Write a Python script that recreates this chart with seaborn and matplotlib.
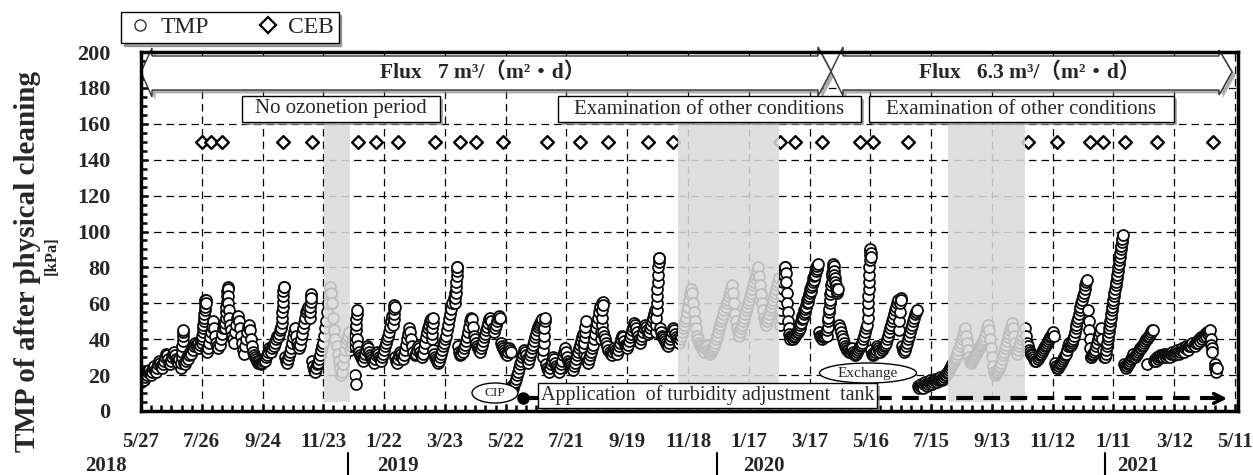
import numpy as np
import pandas as pd
import matplotlib
matplotlib.use("Agg")
import matplotlib.pyplot as plt
import matplotlib.patheffects as pe
from matplotlib.patches import Polygon, Rectangle, Ellipse
from matplotlib.lines import Line2D
import seaborn as sns

# x axis: days counted from 2018-05-27
tick_days = [0, 60, 120, 180, 240, 300, 360, 420, 480, 540, 600, 660, 720, 780, 840, 900, 960, 1020, 1080]
tick_labels = ["5/27", "7/26", "9/24", "11/23", "1/22", "3/23", "5/22", "7/21", "9/19", "11/18",
               "1/17", "3/17", "5/16", "7/15", "9/13", "11/12", "1/11", "3/12", "5/11"]
years = ["2018", "2019", "2020", "2021"]

# TMP readings as runs: (first day, spacing in days, kPa values)
tmp_runs = [
    (0, 1, [16, 17, 18, 17, 19, 21, 20, 22, 23, 21, 20, 22, 24, 25, 23, 22, 24, 26, 28, 27, 25, 24, 26, 28,
            30, 32, 31, 29, 27, 26, 28, 30, 32, 33, 31, 29, 28, 27, 29]),
    (39.5, 0.3, [24, 27, 30, 33, 36, 39, 42, 44, 45]),
    (42, 1, [27, 26, 28, 30, 29, 31, 33, 32, 35, 34, 36, 38, 37, 36, 38, 35, 37, 39]),
    (60, 0.3, [38, 40, 42, 44, 46, 48, 50, 52, 54, 56, 58, 60, 62, 62, 60]),
    (64.5, 1, [34, 33, 35, 38, 41, 44, 47, 50, 46, 42, 38, 36, 35, 37, 40, 43, 46, 48, 50]),
    (83, 0.3, [46, 49, 52, 55, 58, 61, 64, 67, 69, 68, 64, 60, 56, 52]),
    (87.5, 1, [48, 45, 42, 40, 38, 44, 48, 52, 53, 50, 46, 42, 38, 34, 32, 36, 40, 44, 47, 48, 45, 40, 36,
               33, 31, 30, 29, 28, 27, 28]),
    (117, 1, [27, 26, 27, 28, 29, 28, 30, 31, 33, 35, 34, 33, 35, 37, 36, 38, 40, 42, 41, 43, 45, 47]),
    (138.5, 0.3, [46, 49, 52, 55, 58, 61, 64, 67, 69, 69]),
    (142, 1, [30, 28, 27, 29, 31, 33, 35, 38, 41, 44, 46, 42, 38, 36, 35, 37, 40, 43, 46, 49, 52, 55, 56, 58]),
    (166.5, 0.3, [52, 55, 58, 61, 64, 65, 63]),
    (169, 1, [28, 25, 23, 22, 24, 26, 27, 29, 31, 34, 36]),
    (180, 1, [38, 42, 46, 50, 55, 60, 65, 69, 66, 60, 52, 45, 40, 36, 32, 28, 24, 20, 22, 26, 30, 34, 38, 40,
              42, 44]),
    (206, 1, [34, 36, 38, 40, 42]),
    (211, 0.3, [36, 39, 42, 45, 48, 51, 54, 56]),
    (211.5, 0.5, [20, 15]),
    (213, 1, [40, 36, 33, 31, 30, 29, 28, 30, 32, 34, 36, 35, 33, 31, 30, 29, 28, 27, 29, 31, 33, 32, 30, 29,
              28, 30, 32, 34, 36, 38, 40, 42, 44, 47, 50, 53]),
    (249, 0.3, [48, 51, 54, 57, 59, 58]),
    (251, 1, [30, 28, 27, 29, 31, 33, 32, 30, 29, 31, 34, 37, 40, 43, 46, 44, 40, 36, 33, 31, 32, 34, 36, 35,
              33, 31, 30, 32, 35, 38, 41, 44, 46, 48, 50, 51]),
    (287, 0.3, [40, 43, 46, 49, 52]),
    (288.5, 1, [34, 32, 30, 29, 28, 27, 28, 30, 32, 34, 36, 38, 40, 42, 45, 48, 51, 54, 57, 60, 63, 66]),
    (310, 0.3, [60, 63, 66, 69, 72, 75, 78, 80, 80]),
    (313, 1, [36, 33, 31, 32, 34, 33, 35, 37, 39, 41, 44, 47, 50, 52, 51, 47]),
    (329, 1, [42, 40, 38, 36, 35, 34, 33, 35, 37, 39, 41, 43, 45, 47, 49, 51, 52, 50, 46, 44, 46, 48, 50, 52,
              53, 52]),
    (355, 1, [38, 36, 35, 34, 33, 32, 31, 33, 35, 34, 33]),
    (366, 1, [14, 13, 15, 16, 18, 20, 22, 24, 26, 28, 30, 32, 34, 33, 31, 29, 27, 29, 31, 33, 35, 37, 39, 41,
              43, 45, 47, 48, 49, 50, 51]),
    (397, 0.3, [30, 34, 38, 42, 46, 50, 52]),
    (399.5, 1, [26, 24, 23, 22, 24, 26, 28, 30, 29, 27, 25, 24, 23, 22, 24, 26, 28, 31, 33, 35, 33, 30, 28,
                27, 26, 25, 24, 23, 25, 27, 29, 31, 33, 35, 37, 39, 41, 43]),
    (437, 0.3, [32, 35, 38, 41, 44, 47, 50]),
    (439, 1, [30, 28, 27, 29, 31, 33, 35, 37, 40, 43, 46, 49, 52, 55, 58]),
    (454, 0.3, [40, 44, 48, 52, 56, 60, 61, 59]),
    (456.5, 1, [44, 42, 40, 38, 36, 34, 33, 32, 31, 33, 35, 34, 33, 32, 34, 36, 38, 40, 42, 41, 39, 37, 36,
                35, 37, 39, 41, 43, 45, 47, 49, 48, 46, 44, 42, 40, 38, 40, 42, 44, 46, 48, 47, 45, 43, 44,
                46, 48, 50, 52, 54, 56]),
    (508, 0.3, [44, 48, 52, 56, 60, 64, 68, 72, 76, 80, 83, 85, 85]),
    (512, 1, [46, 44, 42, 41, 40, 39, 38, 37, 36, 38, 40, 42, 44, 46, 45, 43, 41, 40, 39, 38]),
    (532, 1, [40, 42, 44, 46, 48, 50, 52, 55, 58, 62, 65, 68, 66, 60, 55, 50, 46, 42, 40, 38, 37, 36, 35,
              34, 33, 35, 37, 36, 34, 33, 32, 33, 34, 35, 36, 38, 40, 42, 44, 46, 48, 50, 52, 54, 56, 58,
              60, 62, 64, 66, 68, 70, 66, 60, 54, 50, 46, 44, 42, 44, 46, 48, 50, 52, 54, 56, 58, 60, 62,
              64, 66, 68, 70, 72, 74, 76, 78, 80, 75, 70, 65, 60, 56, 52, 50, 48, 50, 52, 54, 56, 58, 60,
              62, 64, 66, 68, 70, 72, 74]),
    (631, 0.5, [48, 52, 56, 60, 64, 68, 72, 76, 79, 80, 80, 77, 72, 66, 60, 55, 50, 46, 43, 41, 40]),
    (641.5, 1, [42, 41, 40, 41, 42, 43, 44, 45]),
    (649, 0.5, [44, 45, 47, 46, 48, 50, 49, 51, 53, 52, 54, 56, 55, 57, 59, 58, 60, 62, 61, 63, 65, 64, 66,
                68, 67, 69, 71, 70, 72, 74, 73, 75, 77, 76, 78, 80, 79, 81, 82]),
    (669, 1, [44, 42, 41, 40, 41, 42, 43, 44]),
    (677, 0.4, [42, 45, 47, 50, 52, 55, 57, 60, 62, 65, 67, 70, 72, 75, 77, 80, 82, 81, 78]),
    (684.5, 0.5, [76, 74, 72, 70, 68, 66, 67, 68]),
    (689, 1, [48, 46, 44, 42, 40, 38, 36, 35, 34, 34, 33, 33, 34, 35]),
    (703, 1, [33, 32, 31, 32, 33, 34, 35, 36, 37, 38, 40, 42, 44, 46]),
    (717, 0.25, [48, 52, 56, 60, 64, 68, 72, 76, 80, 84, 87, 89, 90, 88, 86]),
    (721, 1, [34, 32, 31, 32, 33, 34, 36, 35, 34, 33, 34, 35, 36, 37, 38, 40, 42, 44, 46, 48, 50, 52, 54,
              56, 58, 60, 62]),
    (748, 0.5, [45, 50, 55, 60, 63, 62]),
    (751, 1, [36, 34, 33, 34, 36, 38, 40, 42, 44, 46, 48, 50, 52, 54, 55, 56]),
    (767, 1, [14, 13, 14, 15, 14, 13, 15, 16, 15, 14, 15, 16, 17, 16, 15, 16, 17, 18, 17, 16, 17, 18, 19,
              18, 17, 18, 19, 20]),
    (795, 1, [20, 21, 22, 23, 24, 25, 26, 27, 28, 29, 30, 32, 34, 36, 38, 40, 42, 44, 46, 42, 38, 34, 30,
              28, 27, 28, 29, 30, 31, 32, 33, 34, 35, 36, 37, 38, 39, 40, 42, 44, 46, 48, 45, 40, 35, 30,
              25, 22, 20, 21, 22, 23, 24, 25, 27, 29, 31, 33, 35, 37, 39, 41, 43, 45, 47, 49, 46, 42, 38,
              34, 32, 34, 36, 38, 40, 42, 44]),
    (873, 1, [46, 42, 38, 36, 34, 33, 32, 31, 30, 29, 28, 28, 29, 30, 31, 32, 33, 34, 35, 36, 37, 38, 39,
              40, 41, 42, 43, 44, 42]),
    (902, 1, [27, 25, 24, 24, 25, 26, 27, 28, 29, 30, 31, 32, 34, 36, 38]),
    (917, 0.8, [36, 37, 38, 39, 40, 42, 44, 46, 48, 50, 52, 54, 56, 58, 60, 62, 64, 66, 68, 70, 72, 73]),
    (935, 0.5, [56, 50, 45, 40, 35, 30]),
    (938, 1, [30, 31, 32, 33, 34, 36, 38, 40, 42, 44, 46, 40, 34, 30]),
    (952, 0.5, [30, 32, 34, 36, 38, 40, 42, 44, 46, 48, 50, 52, 54, 56, 58, 60, 62, 64, 66, 68, 70, 72, 74,
                76, 78, 80, 82, 84, 86, 88, 90, 92, 94, 96, 98]),
    (970, 1, [26, 25, 24, 25, 26, 27, 28, 29, 30, 32]),
    (980, 1, [30, 30, 31, 32, 33, 34, 35, 35, 36, 37, 38, 39, 40, 40, 41, 42, 43, 44, 45, 45]),
    (993, 1, [26]),
    (1000, 1, [28, 29, 28, 30, 29, 30, 31, 30, 31, 30, 32, 31, 30, 31, 32, 31, 30, 32, 33, 32, 31, 32, 33,
               34, 33, 32, 33, 34, 35, 34, 33, 35, 36, 35, 34, 36, 37, 36, 38, 37, 36, 38, 39, 38, 40, 39,
               41, 40, 42, 41, 43, 42, 44, 43, 44, 45]),
    (1056, 0.5, [40, 37, 35, 33]),
    (1060, 0.5, [26, 24, 23, 22, 24]),
]

ceb_days = [60, 69, 80, 140, 169, 214, 232, 254, 290, 315, 331, 357, 401, 433, 461, 500, 525,
            631, 646, 672, 710, 723, 757, 876, 904, 937, 950, 971, 1003, 1058]
ceb_kpa = 150

# shaded periods (days) and the turbidity tank start (day)
gray_periods = [(180.5, 206.5), (530, 630), (797, 873)]
turbidity_start = 377

rows = []
for start, step, vals in tmp_runs:
    for i, v in enumerate(vals):
        rows.append((start + i * step, v))
tmp = pd.DataFrame(rows, columns=["day", "tmp"])
ceb = pd.DataFrame({"day": ceb_days, "tmp": [ceb_kpa] * len(ceb_days)})

sns.set_style("ticks")
plt.rcParams["font.family"] = ["Liberation Serif", "Noto Sans CJK JP", "DejaVu Sans"]

W, H = 1253, 475
L, R, T, B = 141, 1238, 52, 411

def ax_pt(px, py):
    return ((px - L) / (R - L), (B - py) / (B - T))

fig = plt.figure(figsize=(W / 100, H / 100), dpi=100)
ax = fig.add_axes([L / W, 1 - B / H, (R - L) / W, (B - T) / H])

sns.scatterplot(data=tmp, x="day", y="tmp", marker="o", s=62, color="white",
                edgecolor="#0d0d0d", linewidth=1.3, ax=ax, zorder=3, legend=False)
sns.scatterplot(data=ceb, x="day", y="tmp", marker="D", s=42, color="white",
                edgecolor="black", linewidth=1.7, ax=ax, zorder=3, legend=False)

for s, e in gray_periods:
    ax.fill_between([s, e], 5, 160, color="#d9d9d9", alpha=0.87, lw=0, zorder=4)

ax.set_xlim(0, (R - L) / 1.013)
ax.set_ylim(0, 200)
ax.set_xticks(tick_days)
ax.set_xticklabels(tick_labels)
ax.set_xticks(np.arange(0, 1084, 10), minor=True)
ax.set_yticks(np.arange(0, 201, 20))
ax.set_yticks(np.arange(0, 201, 5), minor=True)
ax.set_xlabel("")
ax.set_ylabel("")
ax.set_axisbelow(True)
ax.grid(which="major", linestyle=(0, (6, 4)), color="black", lw=0.9)
for sp in ax.spines.values():
    sp.set_visible(True)
    sp.set_linewidth(2.5)
    sp.set_color("black")
    sp.set_zorder(8)
ax.tick_params(which="both", direction="in", width=1.8, color="black")
ax.tick_params(which="major", length=5)
ax.tick_params(which="minor", length=4)
ax.tick_params(axis="x", which="major", pad=15, labelsize=15)
ax.tick_params(axis="y", which="major", pad=22, labelsize=16)
for lab in ax.get_xticklabels() + ax.get_yticklabels():
    lab.set_fontweight("bold")

shadow = [pe.SimplePatchShadow(offset=(2.5, -2.5), shadow_rgbFace="0.55", alpha=0.7), pe.Normal()]

# flux arrows
arrow1 = [(141, 72), (152, 48), (152, 56), (818, 56), (818, 47), (831, 71.5), (818, 96), (818, 90),
          (152, 90), (152, 97)]
arrow2 = [(831, 71.5), (843, 47), (843, 56), (1219, 56), (1219, 50), (1232, 72), (1219, 95), (1219, 90),
          (843, 90), (843, 96)]
for pts in (arrow1, arrow2):
    poly = Polygon([ax_pt(*p) for p in pts], closed=True, transform=ax.transAxes, fc="white",
                   ec="#333333", lw=1, clip_on=False, zorder=6)
    poly.set_path_effects(shadow)
    ax.add_patch(poly)

flux_font = dict(fontsize=15.5, fontweight="bold", ha="center", va="center", zorder=7,
                 family=["Liberation Serif", "Noto Sans CJK JP"], transform=ax.transAxes)
ax.text(*ax_pt(483, 73), "Flux   7 m³/（m²・d）", **flux_font)
ax.text(*ax_pt(1030, 73), "Flux   6.3 m³/（m²・d）", **flux_font)

# label boxes
boxes = [((242, 96, 440, 122), "No ozonetion period", 15),
         ((558, 96, 861, 122), "Examination of other conditions", 15),
         ((869, 96, 1174, 122), "Examination of other conditions", 15),
         ((538, 383, 877, 408), "Application  of turbidity adjustment  tank", 14.5)]
for (x0, y0, x1, y1), label, fs in boxes:
    ax0, ay1 = ax_pt(x0, y0)
    ax1, ay0 = ax_pt(x1, y1)
    rect = Rectangle((ax0, ay0), ax1 - ax0, ay1 - ay0, transform=ax.transAxes, fc="white",
                     ec="black", lw=1, zorder=6, clip_on=False)
    rect.set_path_effects(shadow)
    ax.add_patch(rect)
    ax.text((ax0 + ax1) / 2, (ay0 + ay1) / 2, label, transform=ax.transAxes, ha="center",
            va="center", fontsize=fs, zorder=7)

# turbidity adjustment tank line
ax.plot([turbidity_start, 1068], [7, 7], color="black", lw=3, linestyle=(0, (4, 2.5)), zorder=5)
ax.plot([turbidity_start], [7], marker="o", ms=8, color="black", zorder=5)
ax.annotate("", xy=(1075, 7), xytext=(1060, 7),
            arrowprops=dict(arrowstyle="->,head_length=0.7,head_width=0.35", lw=2.5, color="black"),
            zorder=5)

# ellipses
for (cx, cy, w, h), label, fs in [((495, 393, 46, 20), "CIP", 9.5), ((868, 373, 97, 20), "Exchange", 11)]:
    ex, ey = ax_pt(cx, cy)
    ell = Ellipse((ex, ey), w / (R - L), h / (B - T), transform=ax.transAxes, fc="white", ec="black",
                  lw=1, zorder=6)
    ax.add_patch(ell)
    ax.text(ex, ey, label, transform=ax.transAxes, ha="center", va="center", fontsize=fs, zorder=7)

# legend
handles = [Line2D([], [], marker="o", ls="", mfc="white", mec="#333333", ms=8, mew=1),
           Line2D([], [], marker="D", ls="", mfc="white", mec="black", ms=8, mew=1.6)]
fig.legend(handles, ["TMP", "CEB"], loc="center", bbox_to_anchor=(230 / W, 1 - 27.5 / H), ncol=2,
           frameon=True, fancybox=False, shadow=True, edgecolor="black", fontsize=17,
           handletextpad=0.25, columnspacing=1.9, handlelength=1.2, borderpad=0.2, framealpha=1)

# axis titles and year labels
fig.text(28 / W, 1 - 261 / H, "TMP of after physical cleaning", rotation=90, ha="center", va="center",
         fontsize=21, fontweight="bold")
fig.text(52 / W, 1 - 256 / H, "[kPa]", rotation=90, ha="center", va="center", fontsize=12,
         fontweight="bold")
for px, yr in zip([85, 377, 743, 1117], years):
    fig.text(px / W, 1 - 466 / H, yr, ha="left", va="center", fontsize=15, fontweight="bold")
for px in [348, 717, 1105]:
    fig.add_artist(Line2D([px / W, px / W], [1 - 453 / H, 0], color="black", lw=1.5))

fig.savefig("out.png", dpi=100)
